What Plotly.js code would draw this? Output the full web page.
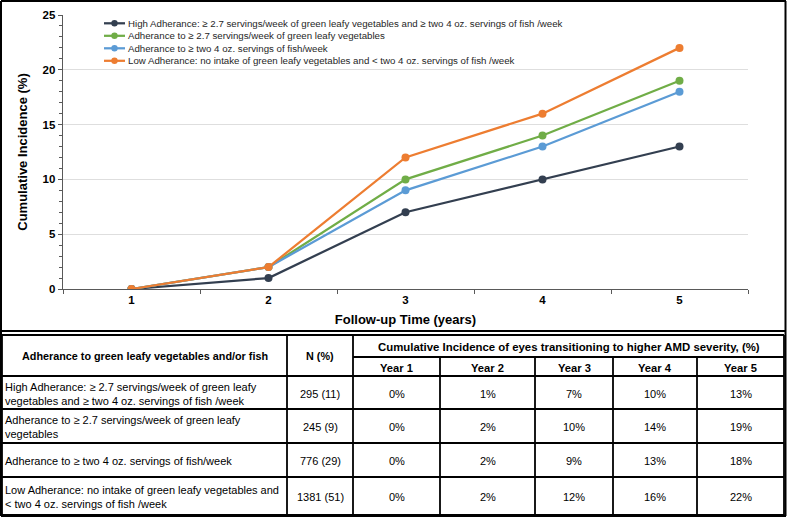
<!DOCTYPE html>
<html>
<head>
<meta charset="utf-8">
<script src="https://cdn.plot.ly/plotly-3.0.1.min.js"></script>
<style>html,body{margin:0;padding:0;background:#fff;}#chart{width:787px;height:517px;}</style>
</head>
<body>
<div id="chart"></div>
<script>
// ---------- data ----------
const years = [1, 2, 3, 4, 5];
const yearLabels = ['Year 1', 'Year 2', 'Year 3', 'Year 4', 'Year 5'];
const seriesNames = [
  'High Adherance: ≥ 2.7 servings/week of green leafy vegetables and ≥ two 4 oz. servings of fish /week',
  'Adherance to ≥ 2.7 servings/week of green leafy vegetables',
  'Adherance to ≥ two 4 oz. servings of fish/week',
  'Low Adherance: no intake of green leafy vegetables and < two 4 oz. servings of fish /week'
];
const tableLabels = [
  'High Adherance: ≥ 2.7 servings/week of green leafy<br>vegetables and ≥ two 4 oz. servings of fish /week',
  'Adherance to ≥ 2.7 servings/week of green leafy<br>vegetables',
  'Adherance to ≥ two 4 oz. servings of fish/week',
  'Low Adherance: no intake of green leafy vegetables and<br>< two 4 oz. servings of fish /week'
];
const nPct = ['295 (11)', '245 (9)', '776 (29)', '1381 (51)'];
const highAdherence = [0, 1, 7, 10, 13];
const leafyOnly = [0, 2, 10, 14, 19];
const fishOnly = [0, 2, 9, 13, 18];
const lowAdherence = [0, 2, 12, 16, 22];
const seriesValues = [highAdherence, leafyOnly, fishOnly, lowAdherence];
const colors = ['#333f50', '#70ad47', '#5b9bd5', '#ed7d31'];

const headerCol0 = 'Adherance to green leafy vegetables and/or fish';
const headerCol1 = 'N (%)';
const headerSpan = 'Cumulative Incidence of eyes transitioning to higher AMD severity, (%)';

// ---------- layout geometry (pixels) ----------
const W = 787, H = 517;
const PL = 63, PR = 748, PT = 15, PB = 289;
const fx = p => (p - PL) / (PR - PL);
const fy = p => (PB - p) / (PB - PT);
const colEdges = [2, 287, 353, 440, 535, 613, 697, 784];
const headTop = 335, headMid = 357, headBot = 376;
const rowEdges = [376, 409, 443, 477, 515];
const legendX0 = 104, legendX1 = 125, legendTop = 23.3, legendStep = 12.5;
const FONT = 'Liberation Sans, Arial, sans-serif';

const traces = seriesValues.map((vals, i) => ({
  type: 'scatter', mode: 'lines+markers',
  x: years, y: vals, name: seriesNames[i],
  line: {color: colors[i], width: 2.25},
  marker: {color: colors[i], size: 8},
  hoverinfo: 'skip', showlegend: false
}));

const shapes = [];
const annotations = [];
const line = (x0, y0, x1, y1, w, c) => shapes.push({type: 'line', xref: 'paper', yref: 'paper',
  x0: fx(x0), y0: fy(y0), x1: fx(x1), y1: fy(y1), line: {color: c || '#000', width: w || 1.8}});
const txt = (text, x, y, opts) => annotations.push(Object.assign({
  text: text, xref: 'paper', yref: 'paper', x: fx(x), y: fy(y), showarrow: false,
  xanchor: 'center', yanchor: 'middle', font: {family: FONT, size: 11, color: '#000'}
}, opts || {}));
const bold = s => '<b>' + s + '</b>';

// legend (compact, Excel-like spacing)
seriesNames.forEach((name, i) => {
  const y = legendTop + i * legendStep;
  line(legendX0, y, legendX1, y, 2.25, colors[i]);
  shapes.push({type: 'circle', xref: 'paper', yref: 'paper', xsizemode: 'pixel', ysizemode: 'pixel',
    xanchor: fx((legendX0 + legendX1) / 2), yanchor: fy(y), x0: -3.2, x1: 3.2, y0: -3.2, y1: 3.2,
    fillcolor: colors[i], line: {color: colors[i], width: 0}});
  txt(name, legendX1 + 1, y, {xanchor: 'left', font: {family: FONT, size: 9.7, color: '#262626'}});
});

// outer frame
line(1, 1, 786, 1, 2); line(1, 1, 1, 516, 2); line(785.5, 1, 785.5, 516, 2); line(1, 516, 786, 516, 2);
line(1, 331, 786, 331, 2);
// table horizontal lines
line(colEdges[0], headTop, colEdges[7], headTop);
line(colEdges[2], headMid, colEdges[7], headMid);
rowEdges.forEach(y => line(colEdges[0], y, colEdges[7], y));
// table vertical lines
colEdges.forEach((x, i) => {
  const top = (i >= 3 && i <= 6) ? headMid : headTop;
  line(x, top, x, rowEdges[rowEdges.length - 1]);
});

// headers
txt(bold(headerCol0), (colEdges[0] + colEdges[1]) / 2, (headTop + headBot) / 2, {font: {family: FONT, size: 10.8, color: '#000'}});
txt(bold(headerCol1), (colEdges[1] + colEdges[2]) / 2, (headTop + headBot) / 2, {font: {family: FONT, size: 10.8, color: '#000'}});
txt(bold(headerSpan), (colEdges[2] + colEdges[7]) / 2, (headTop + headMid) / 2 + 1, {font: {family: FONT, size: 11.4, color: '#000'}});
yearLabels.forEach((lab, j) => txt(bold(lab), (colEdges[j + 2] + colEdges[j + 3]) / 2, (headMid + headBot) / 2 + 1, {font: {family: FONT, size: 11.2, color: '#000'}}));
// body rows
tableLabels.forEach((lab, i) => {
  const yc = (rowEdges[i] + rowEdges[i + 1]) / 2 + 1;
  txt(lab, colEdges[0] + 1, yc, {xanchor: 'left', align: 'left'});
  txt(nPct[i], (colEdges[1] + colEdges[2]) / 2, yc);
  seriesValues[i].forEach((v, j) => txt(v + '%', (colEdges[j + 2] + colEdges[j + 3]) / 2, yc));
});

const layout = {
  width: W, height: H,
  margin: {l: PL, r: W - PR, t: PT, b: H - PB, pad: 0},
  paper_bgcolor: '#fff', plot_bgcolor: '#fff',
  font: {family: FONT, color: '#000'},
  showlegend: false,
  xaxis: {
    range: [0.5, 5.5], tickvals: years, ticktext: years.map(String),
    ticks: '', showgrid: false, zeroline: false,
    showline: true, linecolor: '#595959', linewidth: 1.3,
    tickfont: {family: FONT, size: 11.5, color: '#000', weight: 'bold'},
    minor: {tick0: 0.5, dtick: 1, ticks: 'outside', ticklen: 4, tickcolor: '#595959', showgrid: false},
    title: {text: '<b>Follow-up Time (years)</b>', font: {family: FONT, size: 13, color: '#000'}, standoff: 9},
    fixedrange: true
  },
  yaxis: {
    range: [0, 25], dtick: 5, tick0: 0,
    ticks: 'outside', ticklen: 4, tickcolor: '#595959',
    showgrid: true, gridcolor: '#dedede', gridwidth: 1,
    zeroline: false, showline: true, linecolor: '#595959', linewidth: 1.3,
    tickfont: {family: FONT, size: 11.5, color: '#000', weight: 'bold'},
    minor: {dtick: 1, ticks: 'outside', ticklen: 3, tickcolor: '#595959', showgrid: false},
    title: {text: '<b>Cumulative Incidence (%)</b>', font: {family: FONT, size: 13, color: '#000'}, standoff: 12},
    fixedrange: true
  },
  shapes: shapes,
  annotations: annotations
};

Plotly.newPlot('chart', traces, layout, {displayModeBar: false, staticPlot: true});
</script>
</body>
</html>
